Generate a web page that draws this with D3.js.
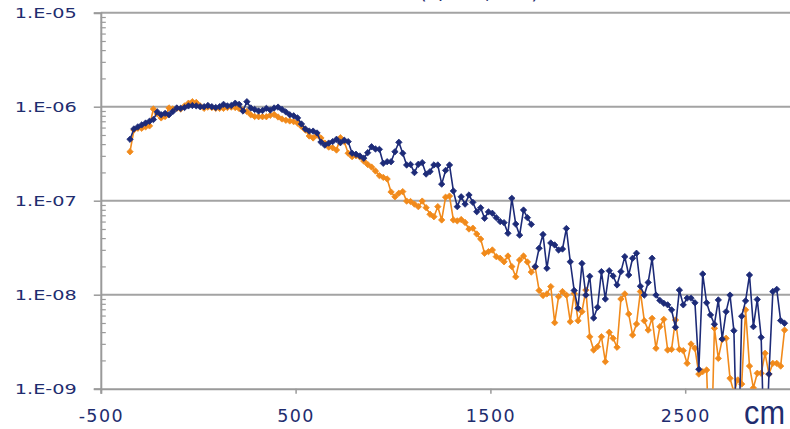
<!DOCTYPE html>
<html>
<head>
<meta charset="utf-8">
<script src="https://cdn.jsdelivr.net/npm/d3@7"></script>
<style>
  html, body { margin: 0; padding: 0; background: #ffffff; }
  svg { display: block; }
</style>
</head>
<body>
<script>
// Distance along the beam line (cm)
const positions = [
  -350,-330,-310,-290,-270,-250,-230,-210,-190,-170,
  -150,-130,-110,-90,-70,-50,-30,-10,10,30,
  50,70,90,110,130,150,170,190,210,230,
  250,270,290,310,330,350,370,390,410,430,
  450,470,490,510,530,550,570,590,610,630,
  650,670,690,710,730,750,770,790,810,830,
  850,870,890,910,930,950,970,990,1010,1030,
  1050,1070,1090,1110,1130,1150,1170,1190,1210,1230,
  1250,1270,1290,1310,1330,1350,1370,1390,1410,1430,
  1450,1470,1490,1510,1530,1550,1570,1590,1610,1630,
  1650,1670,1690,1710,1730,1750,1770,1790,1810,1830,
  1850,1870,1890,1910,1930,1950,1970,1990,2010,2030,
  2050,2070,2090,2110,2130,2150,2170,2190,2210,2230,
  2250,2270,2290,2310,2330,2350,2370,2390,2410,2430,
  2450,2470,2490,2510,2530,2550,2570,2590,2610,2630,
  2650,2670,2690,2710,2730,2750,2770,2790,2810,2830,
  2850,2870,2890,2910,2930,2950,2970,2990,3010
];

// Series 1 (navy)
const seriesBlue = [
  4.5e-7,5.8e-7,6.1e-7,6.4e-7,6.7e-7,7.0e-7,7.3e-7,8.8e-7,8.2e-7,8.5e-7,
  8.2e-7,8.9e-7,9.7e-7,9.6e-7,9.8e-7,1.02e-6,1.03e-6,1.02e-6,1.0e-6,1.0e-6,
  1.03e-6,1.0e-6,9.8e-7,1.0e-6,1.06e-6,1.02e-6,1.03e-6,1.09e-6,1.06e-6,9.0e-7,
  1.13e-6,9.7e-7,9.35e-7,9.0e-7,9.1e-7,9.6e-7,9.2e-7,9.7e-7,9.9e-7,9.35e-7,
  8.8e-7,8.2e-7,8.0e-7,7.6e-7,6.55e-7,5.8e-7,5.5e-7,5.5e-7,5.25e-7,4.2e-7,
  3.9e-7,4.1e-7,4.25e-7,4.5e-7,4.14e-7,4.4e-7,4.25e-7,3.2e-7,3.12e-7,2.99e-7,
  2.83e-7,3.24e-7,3.75e-7,3.55e-7,3.52e-7,2.5e-7,2.6e-7,2.6e-7,3.32e-7,4.18e-7,
  3.2e-7,2.4e-7,2.43e-7,1.99e-7,2.44e-7,2.54e-7,1.92e-7,2.04e-7,2.4e-7,2.4e-7,
  1.5e-7,2.1e-7,2.4e-7,1.27e-7,8.64e-8,1.10e-7,9.2e-8,1.15e-7,9.6e-8,7.64e-8,
  8.4e-8,6.5e-8,7.6e-8,7.35e-8,6.6e-8,6.0e-8,5.84e-8,4.5e-8,1.06e-7,5.65e-8,
  4.3e-8,7.95e-8,6.6e-8,5.6e-8,1.99e-8,3.12e-8,4.37e-8,1.91e-8,3.55e-8,3.38e-8,
  2.99e-8,3.06e-8,5.06e-8,2.24e-8,1.11e-8,7.17e-9,2.15e-8,9.9e-9,1.57e-8,5.65e-9,
  7.35e-9,1.76e-8,9.0e-9,1.80e-8,1.58e-8,1.27e-8,1.76e-8,2.54e-8,1.62e-8,2.44e-8,
  2.76e-8,1.23e-8,9.9e-9,1.35e-8,2.44e-8,9.9e-9,8.7e-9,8.1e-9,7.8e-9,6.9e-9,
  4.5e-9,1.12e-8,7.8e-9,9.2e-9,9.2e-9,8.2e-9,1.61e-9,1.66e-8,8.2e-9,6.1e-9,
  4.85e-9,8.8e-9,3.38e-9,6.6e-9,9.9e-9,4.14e-9,1e-10,5.9e-9,8.6e-9,1.62e-8,
  4.57e-9,8.9e-9,3.52e-9,1e-10,1.43e-9,1.08e-8,1.14e-8,5.3e-9,4.97e-9
];
// Indices where the navy line starts a new segment
const blueBreaks = [104];

// Series 2 (orange)
const seriesOrange = [
  3.32e-7,5.65e-7,5.9e-7,5.9e-7,6.1e-7,6.25e-7,9.45e-7,8.4e-7,7.6e-7,7.87e-7,
  9.7e-7,9.45e-7,9.6e-7,9.45e-7,1.02e-6,1.09e-6,1.13e-6,1.11e-6,1.02e-6,9.6e-7,
  9.9e-7,9.8e-7,9.6e-7,9.6e-7,9.6e-7,9.8e-7,9.9e-7,9.8e-7,9.55e-7,9.2e-7,
  8.9e-7,8.2e-7,7.87e-7,7.83e-7,7.83e-7,7.83e-7,8.1e-7,8.25e-7,7.77e-7,7.4e-7,
  7.17e-7,7.05e-7,6.93e-7,6.7e-7,6.16e-7,5.65e-7,4.88e-7,4.65e-7,5.0e-7,4.65e-7,
  4.1e-7,3.72e-7,3.66e-7,3.46e-7,4.68e-7,4.25e-7,3.2e-7,2.94e-7,3.01e-7,2.92e-7,
  2.64e-7,2.43e-7,2.28e-7,2.07e-7,1.85e-7,1.77e-7,1.70e-7,1.24e-7,1.10e-7,1.20e-7,
  1.25e-7,9.9e-8,9.8e-8,9.2e-8,8.64e-8,9.9e-8,8.43e-8,7.17e-8,6.76e-8,8.64e-8,
  6.24e-8,1.09e-7,1.12e-7,6.24e-8,6.1e-8,6.3e-8,5.87e-8,5.0e-8,5.1e-8,4.42e-8,
  3.91e-8,2.76e-8,2.87e-8,2.99e-8,2.54e-8,2.44e-8,2.24e-8,2.58e-8,1.99e-8,1.55e-8,
  2.34e-8,2.58e-8,2.23e-8,1.74e-8,1.97e-8,1.11e-8,9.8e-9,1.02e-8,1.22e-8,5.04e-9,
  9.53e-9,1.08e-8,9.9e-9,5.17e-9,1.03e-8,5.29e-9,6.6e-9,1.12e-8,3.57e-9,2.58e-9,
  2.8e-9,3.57e-9,1.94e-9,3.98e-9,3.44e-9,2.76e-9,9.0e-9,1.02e-8,6.24e-9,3.72e-9,
  4.88e-9,1.08e-8,5.29e-9,4.2e-9,5.6e-9,2.69e-9,4.57e-9,5.47e-9,2.58e-9,2.62e-9,
  5.38e-9,2.62e-9,2.54e-9,1.86e-9,2.99e-9,2.69e-9,1.43e-9,1.52e-9,1.58e-9,1e-10,
  4.4e-9,2.1e-9,3.35e-9,3.44e-9,1.29e-9,9.2e-10,1.24e-9,1.12e-9,6.9e-9,1.74e-9,
  1.02e-9,1.46e-9,1.46e-9,2.38e-9,1.43e-9,1.86e-9,1.86e-9,1.74e-9,4.2e-9
];

// Axis ticks and labels
const xTicks = [-500, 500, 1500, 2500];
const xTickLabels = ["-500", "500", "1500", "2500"];
const yTicks = [1e-5, 1e-6, 1e-7, 1e-8, 1e-9];
const yTickLabels = ["1.E-05", "1.E-06", "1.E-07", "1.E-08", "1.E-09"];
const xUnit = "cm";
const title = "Flux (n/cm², sec)";

const W = 790, H = 429;
const plot = { left: 100.8, top: 12.7, bottom: 388.7 };
const NAVY = "#1d2b78";
const ORANGE = "#f18a1b";
const TEXT = "#1f2d6f";
const AXIS = "#a3a3a3";

const x = d3.scaleLinear().domain([-500, 3500]).range([plot.left, plot.left + 4000 * 0.1948]);
const y = d3.scaleLog().domain([1e-9, 1e-5]).range([plot.bottom, plot.top]);

const svg = d3.select("body").append("svg")
  .attr("width", W).attr("height", H)
  .attr("viewBox", `0 0 ${W} ${H}`);

svg.append("defs").append("clipPath").attr("id", "plot-clip")
  .append("rect")
  .attr("x", plot.left).attr("y", plot.top - 6)
  .attr("width", W - plot.left).attr("height", plot.bottom - plot.top + 6);

// Title sits above the frame; only its lowest strokes fall inside
svg.append("text")
  .attr("x", 455).attr("y", -1.3)
  .attr("text-anchor", "middle")
  .attr("font-family", "DejaVu Sans, sans-serif")
  .attr("font-size", 20)
  .attr("fill", TEXT)
  .text(title);

// Decade gridlines
svg.append("g").selectAll("line")
  .data(yTicks.slice(0, 4))
  .join("line")
  .attr("x1", plot.left).attr("x2", W)
  .attr("y1", d => y(d)).attr("y2", d => y(d))
  .attr("stroke", AXIS).attr("stroke-width", 2);

// Y axis: major ticks with labels
const yAxis = svg.append("g")
  .attr("transform", `translate(${plot.left},0)`)
  .call(d3.axisLeft(y).tickValues(yTicks)
    .tickFormat((d, i) => yTickLabels[i])
    .tickSize(7).tickPadding(17));
yAxis.select(".domain").attr("stroke", "#9a9a9a").attr("stroke-width", 2);
yAxis.selectAll(".tick line").attr("stroke", "#9a9a9a").attr("stroke-width", 1.5);
yAxis.selectAll(".tick text")
  .attr("font-family", "DejaVu Sans, sans-serif")
  .attr("font-size", 14)
  .attr("fill", TEXT)
  .attr("textLength", 62)
  .attr("lengthAdjust", "spacingAndGlyphs");

// Y axis: minor ticks inside the plot
const minorTicks = [];
yTicks.slice(1).forEach(dec => {
  for (let m = 2; m <= 9; m++) minorTicks.push(dec * m);
});
const yMinor = svg.append("g")
  .attr("transform", `translate(${plot.left},0)`)
  .call(d3.axisRight(y).tickValues(minorTicks).tickFormat("").tickSize(5));
yMinor.select(".domain").remove();
yMinor.selectAll(".tick line").attr("stroke", "#9a9a9a").attr("stroke-width", 1.2);

// X axis
const xAxis = svg.append("g")
  .attr("transform", `translate(0,${plot.bottom})`)
  .call(d3.axisBottom(x).tickValues(xTicks)
    .tickFormat((d, i) => xTickLabels[i])
    .tickSize(5).tickPadding(16));
xAxis.select(".domain").attr("stroke", "#9a9a9a").attr("stroke-width", 2);
xAxis.selectAll(".tick line").attr("stroke", "#9a9a9a").attr("stroke-width", 1.5);
xAxis.selectAll(".tick text")
  .attr("font-family", "DejaVu Sans, sans-serif")
  .attr("font-size", 17.5)
  .attr("letter-spacing", 1.4)
  .attr("fill", TEXT);

// Unit label
svg.append("text")
  .attr("x", 744).attr("y", 424)
  .attr("font-family", "Liberation Sans Narrow, Liberation Sans, sans-serif")
  .attr("font-size", 34)
  .attr("fill", TEXT)
  .attr("textLength", 41)
  .attr("lengthAdjust", "spacingAndGlyphs")
  .text(xUnit);

// Series drawing
const plotG = svg.append("g").attr("clip-path", "url(#plot-clip)");
const line = d3.line().x(d => x(d.x)).y(d => y(d.v));
const diamond = d3.symbol().type(d3.symbolDiamond2).size(26);

function drawSeries(values, color, breaks) {
  const pts = values.map((v, i) => ({ x: positions[i], v, i }));
  const segments = [];
  let cur = [];
  pts.forEach(p => {
    if (breaks.includes(p.i) && cur.length) { segments.push(cur); cur = []; }
    cur.push(p);
  });
  if (cur.length) segments.push(cur);

  const g = plotG.append("g");
  g.selectAll("path.series-line")
    .data(segments)
    .join("path")
    .attr("class", "series-line")
    .attr("d", line)
    .attr("fill", "none")
    .attr("stroke", color)
    .attr("stroke-width", 1.6)
    .attr("stroke-linejoin", "round");
  g.selectAll("path.marker")
    .data(pts)
    .join("path")
    .attr("class", "marker")
    .attr("d", diamond)
    .attr("transform", d => `translate(${x(d.x)},${y(d.v)})`)
    .attr("fill", color)
    .attr("stroke", color)
    .attr("stroke-width", 0.8);
}

drawSeries(seriesOrange, ORANGE, []);
drawSeries(seriesBlue, NAVY, blueBreaks);
</script>
</body>
</html>
